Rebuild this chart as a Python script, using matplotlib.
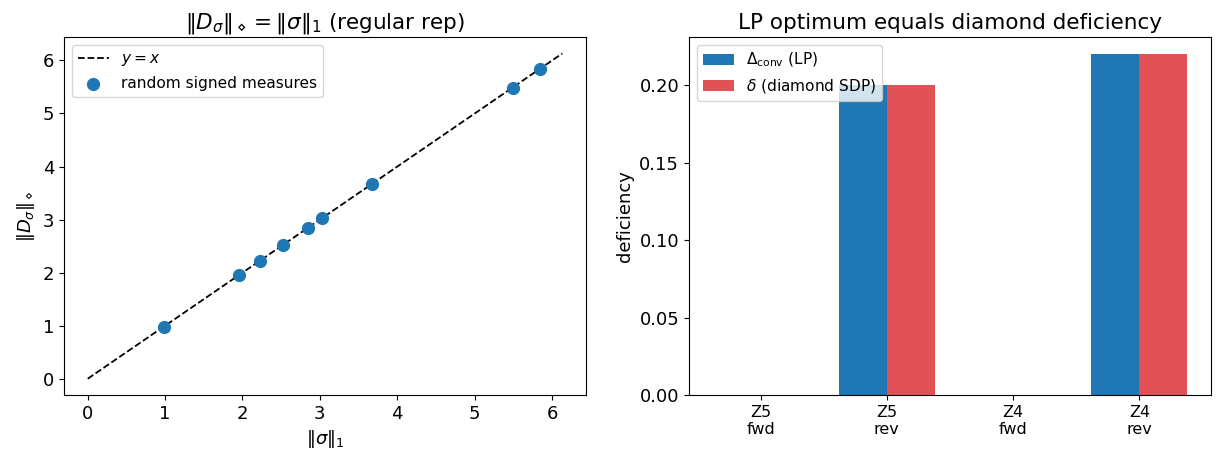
import numpy as np
import matplotlib
matplotlib.use('Agg')
import matplotlib.pyplot as plt

# left panel: random signed measures, l1 norm vs diamond norm
l1_norms = [0.98, 1.96, 2.22, 2.52, 2.84, 3.03, 3.67, 5.49, 5.84]
diamond_norms = [0.98, 1.96, 2.22, 2.52, 2.84, 3.03, 3.67, 5.49, 5.84]

# right panel: deficiencies per group / direction
cases = ['Z5\nfwd', 'Z5\nrev', 'Z4\nfwd', 'Z4\nrev']
lp_vals = [0.0, 0.20, 0.0, 0.22]
sdp_vals = [0.0, 0.20, 0.0, 0.22]


def main():
    fig, (ax1, ax2) = plt.subplots(1, 2, figsize=(12.16, 4.59), dpi=100)
    fig.subplots_adjust(left=0.0526, right=0.9959, top=0.919, bottom=0.1394, wspace=0.197)

    m = max(l1_norms) * 1.05
    ax1.plot([0, m], [0, m], 'k--', lw=1.3, label='$y=x$')
    ax1.scatter(l1_norms, diamond_norms, s=72, color='#1f77b4', zorder=3,
                label='random signed measures')
    ax1.set_xlabel(r'$\|\sigma\|_1$', fontsize=13)
    ax1.set_ylabel(r'$\|D_\sigma\|_\diamond$', fontsize=13)
    ax1.set_title(r'$\|D_\sigma\|_\diamond = \|\sigma\|_1$ (regular rep)', fontsize=15.5)
    ax1.tick_params(labelsize=13)
    ax1.legend(loc='upper left', fontsize=11.1)

    x = np.arange(len(cases))
    w = 0.38
    ax2.bar(x - w / 2, lp_vals, w, color='#1f77b4', label=r'$\Delta_{\rm conv}$ (LP)')
    ax2.bar(x + w / 2, sdp_vals, w, color='#e05256', label=r'$\delta$ (diamond SDP)')
    ax2.set_xticks(x)
    ax2.set_xticklabels(cases, fontsize=11.5)
    ax2.set_ylabel('deficiency', fontsize=13)
    ax2.set_title('LP optimum equals diamond deficiency', fontsize=15.5)
    ax2.tick_params(axis='y', labelsize=13)
    ax2.legend(loc='upper left', fontsize=11.1)

    fig.savefig('out.png', dpi=100)


if __name__ == '__main__':
    main()
